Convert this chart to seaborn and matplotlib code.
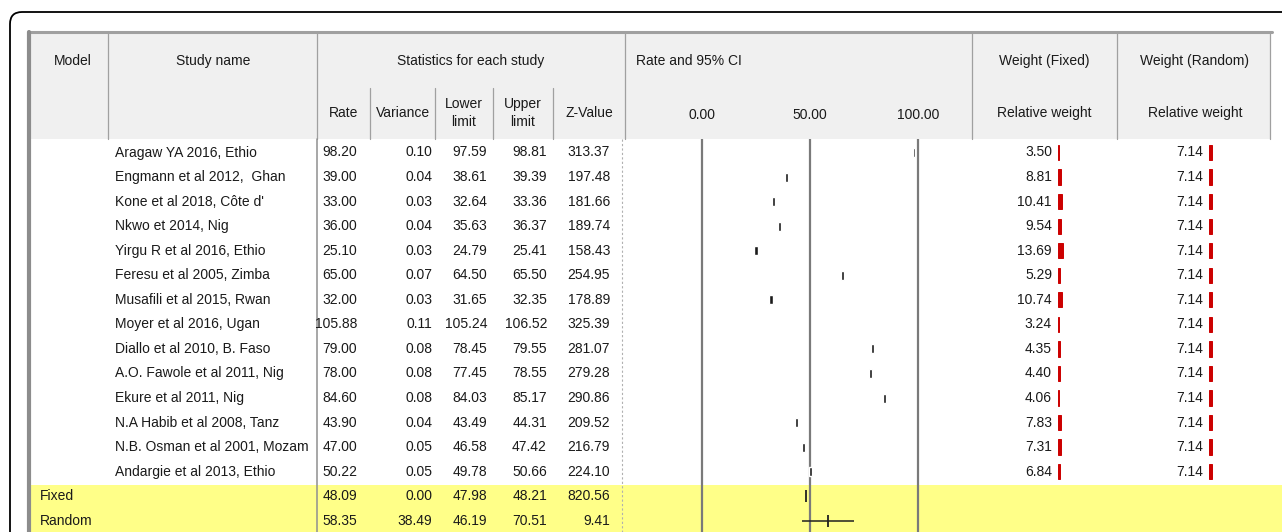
import numpy as np
import matplotlib
matplotlib.use('Agg')
import matplotlib.pyplot as plt
from matplotlib import font_manager
from matplotlib.patches import Rectangle, FancyBboxPatch
import seaborn as sns

######################## data ########################
studies = ['Aragaw YA 2016, Ethio', 'Engmann et al 2012,  Ghan', "Kone et al 2018, Côte d'",
           'Nkwo et 2014, Nig', 'Yirgu R et al 2016, Ethio', 'Feresu et al 2005, Zimba',
           'Musafili et al 2015, Rwan', 'Moyer et al 2016, Ugan', 'Diallo et al 2010, B. Faso',
           'A.O. Fawole et al 2011, Nig', 'Ekure et al 2011, Nig', 'N.A Habib et al 2008, Tanz',
           'N.B. Osman et al 2001, Mozam', 'Andargie et al 2013, Ethio']
rate = [98.20, 39.00, 33.00, 36.00, 25.10, 65.00, 32.00, 105.88, 79.00, 78.00, 84.60, 43.90, 47.00, 50.22]
variance = [0.10, 0.04, 0.03, 0.04, 0.03, 0.07, 0.03, 0.11, 0.08, 0.08, 0.08, 0.04, 0.05, 0.05]
lower = [97.59, 38.61, 32.64, 35.63, 24.79, 64.50, 31.65, 105.24, 78.45, 77.45, 84.03, 43.49, 46.58, 49.78]
upper = [98.81, 39.39, 33.36, 36.37, 25.41, 65.50, 32.35, 106.52, 79.55, 78.55, 85.17, 44.31, 47.42, 50.66]
z_value = [313.37, 197.48, 181.66, 189.74, 158.43, 254.95, 178.89, 325.39, 281.07, 279.28, 290.86, 209.52, 216.79, 224.10]
weight_fixed = [3.50, 8.81, 10.41, 9.54, 13.69, 5.29, 10.74, 3.24, 4.35, 4.40, 4.06, 7.83, 7.31, 6.84]
weight_random = [7.14] * 14

models = ['Fixed', 'Random']
sum_rate = [48.09, 58.35]
sum_variance = [0.00, 38.49]
sum_lower = [47.98, 46.19]
sum_upper = [48.21, 70.51]
sum_z = [820.56, 9.41]

ci_ticks = [0.00, 50.00, 100.00]

######################## setup ########################
sns.set_theme(style='white')
names = {f.name for f in font_manager.fontManager.ttflist}
fam = 'Liberation Sans Narrow' if 'Liberation Sans Narrow' in names else 'Liberation Sans'
plt.rcParams['font.family'] = [fam, 'DejaVu Sans']
FS = 10
TXT = '#1a1a1a'
GRID = '#a0a0a0'
HB = 139  # header bottom

W, H = 1282, 532
fig = plt.figure(figsize=(W / 100, H / 100), dpi=100)
ax = fig.add_axes([0, 0, 1, 1])
ax.set_xlim(0, W)
ax.set_ylim(H, 0)
ax.axis('off')

y0, step = 152.5, 24.55
row_y = y0 + step * np.arange(len(studies) + len(models))
study_y = row_y[:len(studies)]
sum_y = row_y[len(studies):]

# outer rounded frame
ax.add_patch(FancyBboxPatch((10, 12), 1400, 600, boxstyle='round,pad=0,rounding_size=12',
                            fc='white', ec='black', lw=1.3, zorder=0))
# header background + yellow summary band
ax.add_patch(Rectangle((30, 33), 1240, HB - 33, fc='#f0f0f0', ec='none', zorder=1))
ax.add_patch(Rectangle((30, 485), 1260, 50, fc='#ffff88', ec='none', zorder=1))

# table borders
ax.plot([28, 1272], [32, 32], color=GRID, lw=2.2, zorder=3)
ax.plot([29, 29], [32, 540], color='#8c8c8c', lw=3, zorder=3)
for xc in [108, 317, 625, 972, 1117, 1270]:
    ax.plot([xc, xc], [33, HB], color=GRID, lw=0.9, zorder=3)
for xc in [370, 435, 493, 553]:
    ax.plot([xc, xc], [88, HB], color=GRID, lw=0.9, zorder=3)
ax.plot([317, 317], [HB, 540], color='#909090', lw=1.1, zorder=3)
ax.plot([622, 622], [HB, 540], color='#b0b0b0', lw=0.8, ls=(0, (2, 2)), zorder=3)

# header text
hdr = dict(fontsize=FS, color=TXT, va='center', zorder=4)
ax.text(73, 61, 'Model', ha='center', **hdr)
ax.text(213, 61, 'Study name', ha='center', **hdr)
ax.text(471, 61, 'Statistics for each study', ha='center', **hdr)
ax.text(636, 61, 'Rate and 95% CI', ha='left', **hdr)
ax.text(1044, 61, 'Weight (Fixed)', ha='center', **hdr)
ax.text(1195, 61, 'Weight (Random)', ha='center', **hdr)
ax.text(344, 113, 'Rate', ha='center', **hdr)
ax.text(403, 113, 'Variance', ha='center', **hdr)
ax.text(464, 113, 'Lower\nlimit', ha='center', linespacing=1.3, **hdr)
ax.text(523, 113, 'Upper\nlimit', ha='center', linespacing=1.3, **hdr)
ax.text(589, 113, 'Z-Value', ha='center', **hdr)
ax.text(1044, 113, 'Relative weight', ha='center', **hdr)
ax.text(1195, 113, 'Relative weight', ha='center', **hdr)

# body text
cell = dict(fontsize=FS, color=TXT, va='center', zorder=4)
stat_cols = [(357, rate + sum_rate), (432, variance + sum_variance), (487, lower + sum_lower),
             (547, upper + sum_upper), (610, z_value + sum_z)]
for i, name in enumerate(studies):
    ax.text(115, study_y[i], name, ha='left', **cell)
    ax.text(1052, study_y[i], f'{weight_fixed[i]:.2f}', ha='right', **cell)
    ax.text(1203, study_y[i], f'{weight_random[i]:.2f}', ha='right', **cell)
for j, m in enumerate(models):
    ax.text(40, sum_y[j], m, ha='left', **cell)
for xr, vals in stat_cols:
    for k, v in enumerate(vals):
        ax.text(xr, row_y[k], f'{v:.2f}', ha='right', **cell)

######################## forest plot ########################
px_per_unit = 2.16
x_zero = 702
fa = fig.add_axes([625 / W, 0, 347 / W, (H - HB) / H])
fa.set_facecolor('none')
fa.set_xlim((625 - x_zero) / px_per_unit, (972 - x_zero) / px_per_unit)
fa.set_ylim(H, HB)
for s in fa.spines.values():
    s.set_visible(False)
fa.set_yticks([])
fa.set_xticks(ci_ticks)
fa.set_xticklabels([f'{t:.2f}' for t in ci_ticks], fontsize=FS, color=TXT)
fa.xaxis.tick_top()
fa.tick_params(axis='x', length=0, pad=12)
for t in ci_ticks:
    fa.axvline(t, color='#7a7a7a', lw=1.6, zorder=1)

r = np.array(rate)
shown = r <= 100  # the program leaves out points beyond the scale
lo, hi = np.array(lower), np.array(upper)
wf = np.array(weight_fixed)
box_w = (2.2 + wf * 0.1) / px_per_unit
fa.hlines(study_y[shown], lo[shown], hi[shown], color='#202020', lw=0.9, zorder=2)
fa.barh(study_y[shown], box_w[shown], left=r[shown] - box_w[shown] / 2, height=9,
        color='#1a1a1a', zorder=3)
fa.hlines(sum_y, sum_lower, sum_upper, color='#202020', lw=1.1, zorder=2)
sns.scatterplot(x=sum_rate, y=sum_y, marker='|', s=70, color='#202020', linewidth=1.3,
                ax=fa, zorder=3, legend=False)
fa.set_ylim(H, HB)
fa.set_xlabel('')
fa.set_ylabel('')

######################## relative weight bars ########################
bar_px = 0.36
for left, wvals in [(1058, weight_fixed), (1209, weight_random)]:
    wa = fig.add_axes([left / W, 0, 60 / W, 1])
    sns.barplot(x=wvals, y=study_y, orient='h', native_scale=True, color='#cc0000',
                saturation=1, width=0.62, edgecolor='#cc0000', linewidth=0.7, ax=wa)
    wa.set_xlim(0, 60 / bar_px)
    wa.set_ylim(H, 0)
    wa.set_facecolor('none')
    wa.axis('off')

fig.savefig('out.png', dpi=100)
